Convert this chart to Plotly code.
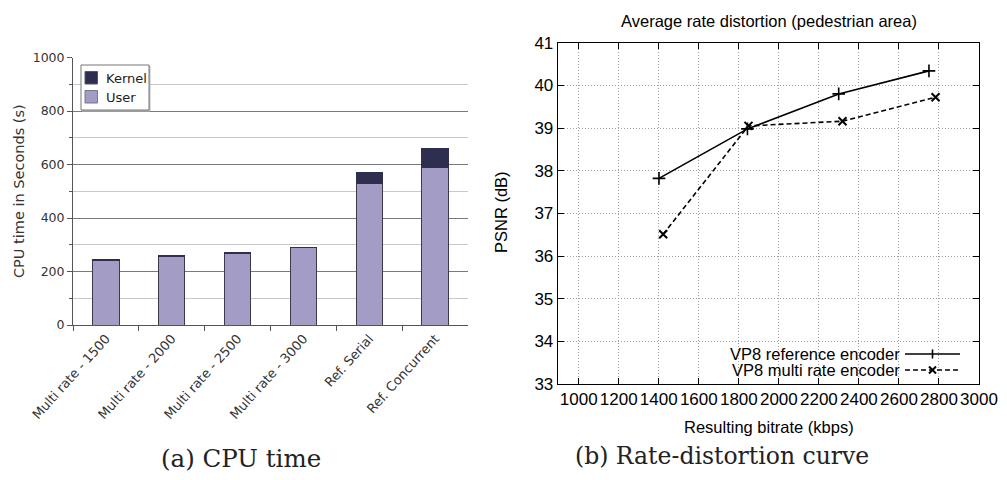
import plotly.graph_objects as go

# ---------------- data ----------------
categories = ["Multi rate - 1500", "Multi rate - 2000", "Multi rate - 2500",
              "Multi rate - 3000", "Ref. Serial", "Ref. Concurrent"]
user_time = [243, 257, 269, 289, 528, 587]
kernel_time = [2, 2, 2, 2, 42, 72]

ref_bitrate = [1401, 1843, 2299, 2750]
ref_psnr = [37.82, 38.98, 39.80, 40.34]
multi_bitrate = [1422, 1848, 2318, 2783]
multi_psnr = [36.51, 39.05, 39.16, 39.72]

USER_C = "#a39dc6"
KERNEL_C = "#2e2e4e"

# page has an 8px body margin; map reference pixel coords onto the figure
OFF = 8
FW, FH = 1007 - OFF, 480 - OFF
def px(x):
    return (x - OFF) / FW
def py(y):
    return 1 - (y - OFF) / FH

SANS_L = "DejaVu Sans"
SANS_R = "Liberation Sans, Arial"
SERIF = "DejaVu Serif"

fig = go.Figure()

fig.add_trace(go.Bar(x=categories, y=user_time, name="User",
                     marker=dict(color=USER_C, line=dict(color="#3a3a4c", width=1)),
                     showlegend=False, xaxis="x", yaxis="y"))
fig.add_trace(go.Bar(x=categories, y=kernel_time, name="Kernel",
                     marker=dict(color=KERNEL_C, line=dict(color=KERNEL_C, width=1)),
                     showlegend=False, xaxis="x", yaxis="y"))

fig.add_trace(go.Scatter(x=ref_bitrate, y=ref_psnr, mode="lines+markers",
                         name="VP8 reference encoder",
                         line=dict(color="black", width=1.6),
                         marker=dict(symbol="cross-thin", size=9,
                                     line=dict(color="black", width=1.6)),
                         showlegend=False, xaxis="x2", yaxis="y2"))
fig.add_trace(go.Scatter(x=multi_bitrate, y=multi_psnr, mode="lines+markers",
                         name="VP8 multi rate encoder",
                         line=dict(color="black", width=1.6, dash="5px,3px"),
                         marker=dict(symbol="x-thin", size=8,
                                     line=dict(color="black", width=2)),
                         showlegend=False, xaxis="x2", yaxis="y2"))

fig.update_layout(
    width=FW, height=FH,
    margin=dict(l=0, r=0, t=0, b=0),
    paper_bgcolor="white", plot_bgcolor="white",
    barmode="stack", bargap=0.6, showlegend=False,
    xaxis=dict(domain=[px(73), px(468)], type="category", anchor="y",
               tickson="boundaries", ticks="outside", ticklen=5, tickcolor="#555",
               showline=True, linecolor="#555", linewidth=1,
               tickangle=-48, tickfont=dict(family=SANS_L, size=13, color="#333"),
               showgrid=False, automargin=False),
    yaxis=dict(domain=[py(325), py(57.5)], range=[0, 1000], dtick=200, anchor="x",
               showgrid=True, gridcolor="#7a7a7a", gridwidth=1,
               ticks="outside", ticklen=5, tickcolor="#555",
               showline=True, linecolor="#555", linewidth=1, zeroline=False,
               tickfont=dict(family=SANS_L, size=12.5, color="#333"),
               minor=dict(dtick=100, showgrid=True, gridcolor="#c8c8c8",
                          ticks="outside", ticklen=3, tickcolor="#555"),
               automargin=False),
    xaxis2=dict(domain=[px(557.7), px(979)], range=[895, 3000], tick0=1000, dtick=200,
                anchor="y2", ticks="inside", ticklen=6, tickcolor="black",
                showline=True, mirror="ticks", linecolor="black", linewidth=1,
                showgrid=True, gridcolor="#a0a0a0", griddash="1px,2px", zeroline=False,
                tickfont=dict(family=SANS_R, size=17, color="black"),
                automargin=False),
    yaxis2=dict(domain=[py(384), py(42.7)], range=[33, 41], dtick=1,
                anchor="x2", ticks="inside", ticklen=6, tickcolor="black",
                showline=True, mirror="ticks", linecolor="black", linewidth=1,
                showgrid=True, gridcolor="#a0a0a0", griddash="1px,2px", zeroline=False,
                tickfont=dict(family=SANS_R, size=17, color="black"),
                automargin=False),
)

ann = [
    dict(text="CPU time in Seconds (s)", x=px(19), y=py(191), textangle=-90,
         font=dict(family=SANS_L, size=14.5, color="#333")),
    dict(text="(a) CPU time", x=px(240.5), y=py(458),
         font=dict(family=SERIF, size=24.5, color="#222")),
    dict(text="Average rate distortion (pedestrian area)", x=px(769), y=py(20.7),
         font=dict(family=SANS_R, size=16.5, color="black")),
    dict(text="PSNR (dB)", x=px(501), y=py(212), textangle=-90,
         font=dict(family=SANS_R, size=16.5, color="black")),
    dict(text="Resulting bitrate (kbps)", x=px(768.5), y=py(426.7),
         font=dict(family=SANS_R, size=16.5, color="black")),
    dict(text="(b) Rate-distortion curve", x=px(722), y=py(456),
         font=dict(family=SERIF, size=23.5, color="#222")),
    dict(text="VP8 reference encoder", x=px(902), y=py(354), xanchor="right",
         font=dict(family=SANS_R, size=16.5, color="black")),
    dict(text="VP8 multi rate encoder", x=px(902), y=py(370), xanchor="right",
         font=dict(family=SANS_R, size=16.5, color="black")),
    # left panel legend texts
    dict(text="Kernel", x=px(104), y=py(78), xanchor="left",
         font=dict(family=SANS_L, size=13, color="#222")),
    dict(text="User", x=px(104), y=py(97), xanchor="left",
         font=dict(family=SANS_L, size=13, color="#222")),
]
for a in ann:
    a.setdefault("xanchor", "center")
    a.update(xref="paper", yref="paper", yanchor="middle", showarrow=False)
fig.update_layout(annotations=ann)

shapes = [
    # left legend box (with light shadow) and swatches
    dict(type="rect", x0=px(82), x1=px(150), y0=py(66), y1=py(111),
         line=dict(color="#bbbbbb", width=1), fillcolor="#bbbbbb"),
    dict(type="rect", x0=px(81), x1=px(149), y0=py(65), y1=py(110),
         line=dict(color="#777777", width=1), fillcolor="white"),
    dict(type="rect", x0=px(85), x1=px(97.5), y0=py(71.5), y1=py(84),
         line=dict(color="#555566", width=1), fillcolor=KERNEL_C),
    dict(type="rect", x0=px(85), x1=px(97.5), y0=py(90.5), y1=py(103),
         line=dict(color="#777788", width=1), fillcolor=USER_C),
    # right legend samples (gnuplot style, sample on right)
    dict(type="line", x0=px(905), x1=px(960), y0=py(354), y1=py(354),
         line=dict(color="black", width=1.6)),
    dict(type="line", x0=px(932.5), x1=px(932.5), y0=py(349.5), y1=py(358.5),
         line=dict(color="black", width=1.6)),
    dict(type="line", x0=px(905), x1=px(960), y0=py(370), y1=py(370),
         line=dict(color="black", width=1.6, dash="5px,3px")),
    dict(type="line", x0=px(929), x1=px(936), y0=py(366.5), y1=py(373.5),
         line=dict(color="black", width=2)),
    dict(type="line", x0=px(929), x1=px(936), y0=py(373.5), y1=py(366.5),
         line=dict(color="black", width=2)),
]
for s in shapes:
    s.update(xref="paper", yref="paper", layer="above")
fig.update_layout(shapes=shapes)

fig.write_html("out.html")
